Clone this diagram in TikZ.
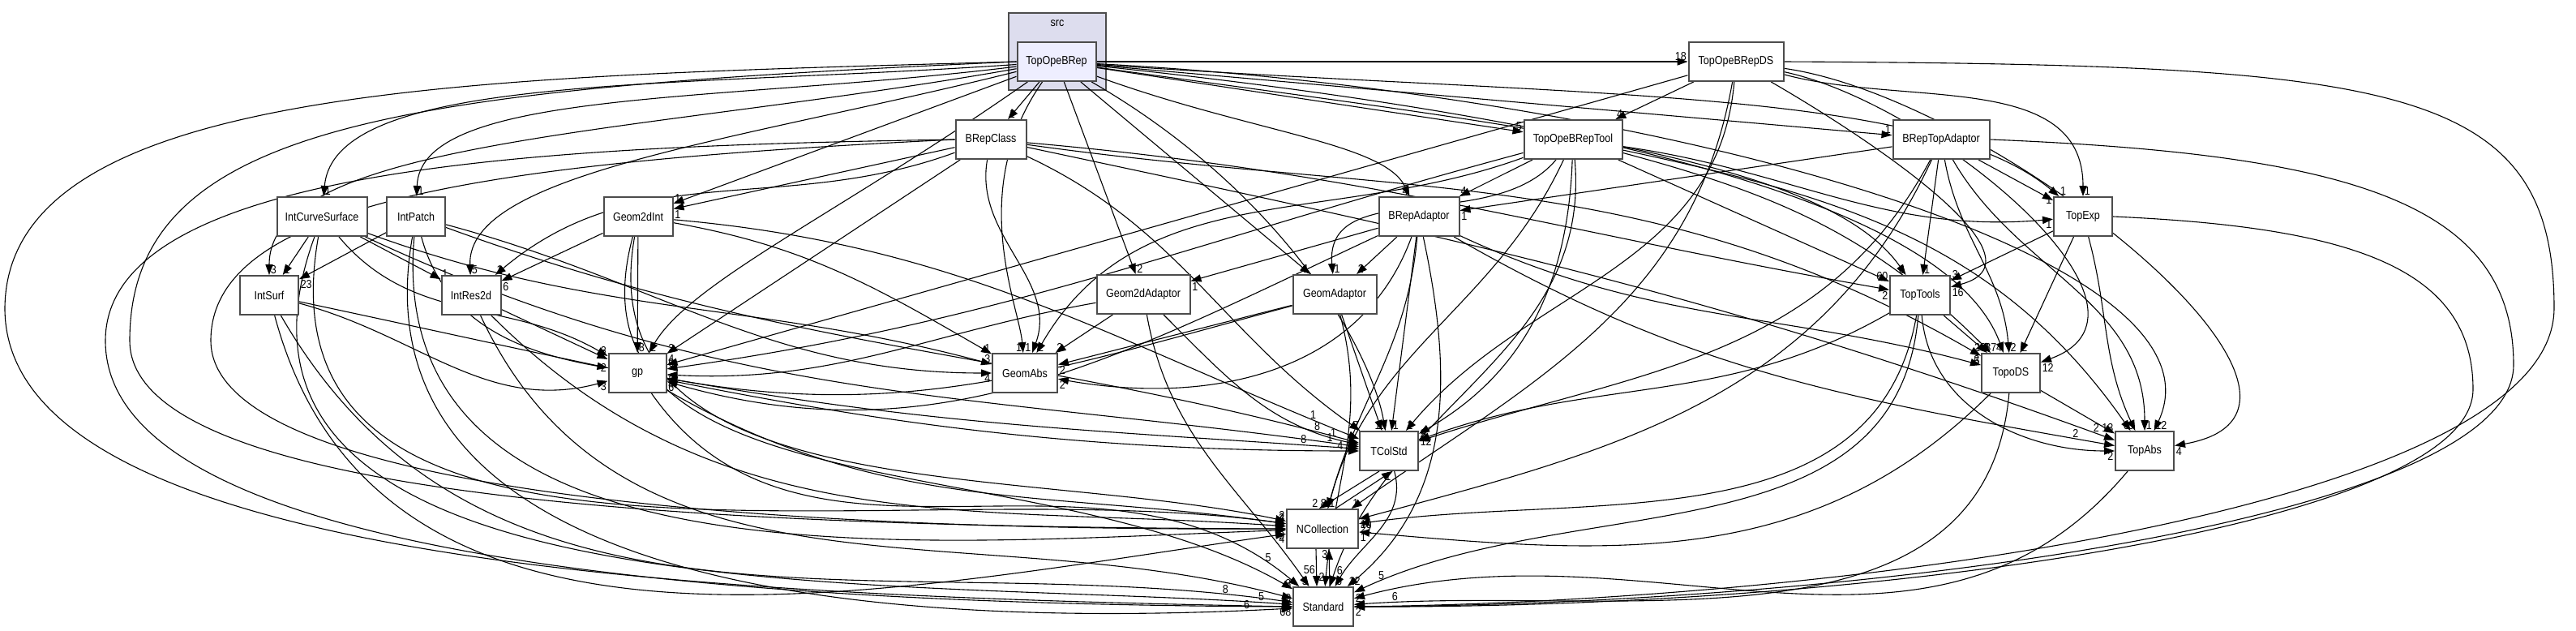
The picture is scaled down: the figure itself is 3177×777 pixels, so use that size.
\documentclass[tikz,border=0pt]{standalone}
\usepackage{fontspec}
\usepackage{xcolor}
\usepackage{tikz}
\usetikzlibrary{arrows.meta}
\newfontfamily\dirfont[FakeStretch=0.87]{Liberation Sans}
\newcommand{\dirtext}{\dirfont\fontsize{7.2}{8.6}\selectfont}
\definecolor{srcbg}{HTML}{DDDDEE}
\definecolor{opebg}{HTML}{EEEEFF}
\pgfdeclarelayer{fondo}
\pgfdeclarelayer{aristas}
\pgfsetlayers{fondo,aristas,main}

\begin{document}
\begin{tikzpicture}[
	x=0.5pt, y=-0.5pt,
	% --- ESTILOS ---
	dirbox/.style={
		rectangle, draw=black!70, line width=1pt, fill=white,
		minimum height=24pt, inner sep=1pt, font=\dirtext
	},
	srcbox/.style={
		draw=black!70, line width=1pt, fill=srcbg
	},
	dep/.style={
		draw, -{Triangle[length=6.5pt,width=4.6pt]}, line width=0.55pt, color=black
	},
	num/.style={
		font=\dirtext, inner sep=0.6pt
	}
	]

	% --- 0. Fondo y cluster src ---
	\begin{pgfonlayer}{fondo}
		\fill[white] (0,0) rectangle (3177,777);
		\draw[srcbox] (1244,16) rectangle (1364,111);
	\end{pgfonlayer}
	\useasboundingbox (0,0) rectangle (3177,777);
	\node[font=\dirtext] (src_lbl) at (1304,29) {src};

	% --- 1. Directorios (por filas) ---
	\node[dirbox, fill=opebg, minimum width=48.5pt] (topope) at (1303,76) {TopOpeBRep};
	\node[dirbox, minimum width=58.5pt] (ope_ds) at (2141,76) {TopOpeBRepDS};

	\node[dirbox, minimum width=43.5pt] (brep_class) at (1222,172) {BRepClass};
	\node[dirbox, minimum width=60.5pt] (ope_tool) at (1940,172) {TopOpeBRepTool};
	\node[dirbox, minimum width=59.5pt] (brep_topad) at (2394,172) {BRepTopAdaptor};

	\node[dirbox, minimum width=55.5pt] (int_cs) at (397,267) {IntCurveSurface};
	\node[dirbox, minimum width=36pt] (int_patch) at (513,267) {IntPatch};
	\node[dirbox, minimum width=42.5pt] (g2d_int) at (787,267) {Geom2dInt};
	\node[dirbox, minimum width=49.5pt] (brep_ad) at (1750,267) {BRepAdaptor};
	\node[dirbox, minimum width=36pt] (top_exp) at (2569,267) {TopExp};

	\node[dirbox, minimum width=36pt] (int_surf) at (332,364) {IntSurf};
	\node[dirbox, minimum width=36.5pt] (int_res) at (581,364) {IntRes2d};
	\node[dirbox, minimum width=57.5pt] (g2d_ad) at (1410,363) {Geom2dAdaptor};
	\node[dirbox, minimum width=51.5pt] (geom_ad) at (1646,363) {GeomAdaptor};
	\node[dirbox, minimum width=37pt] (top_tools) at (2368,364) {TopTools};

	\node[dirbox, minimum width=35.5pt] (gp) at (786,460) {gp};
	\node[dirbox, minimum width=40pt] (geom_abs) at (1264,460) {GeomAbs};
	\node[dirbox, minimum width=36pt] (topo_ds) at (2480,460) {TopoDS};

	\node[dirbox, minimum width=36pt] (tcol) at (1713,556) {TColStd};
	\node[dirbox, minimum width=36pt] (top_abs) at (2645,556) {TopAbs};
	\node[dirbox, minimum width=44pt] (ncoll) at (1631,652) {NCollection};
	\node[dirbox, minimum width=37pt] (std) at (1632,748) {Standard};

	\begin{pgfonlayer}{aristas}
	% --- 2. Dependencias rectas ---
	\foreach \src/\dst/\lbl/\anc in {
		topope/ope_ds/18/south east, topope/brep_class/1/south west,
		topope/ope_tool/5/south east, topope/brep_topad/1/south east,
		topope/g2d_int/1/south west, topope/g2d_ad/2/south west,
		topope/geom_ad/1/south east, ope_ds/ope_tool/4/south west,
		ope_ds/gp/4/south west, ope_tool/brep_ad/4/south west,
		ope_tool/top_tools/60/south east, brep_class/g2d_int/1/north west,
		brep_class/gp/2/south west,
		brep_topad/brep_ad/1/north west, brep_topad/top_exp/1/east,
		brep_topad/top_tools/1/south west, int_cs/int_surf/1/south west,
		int_cs/int_res/1/south west, int_patch/int_surf/23/north west,
		g2d_int/int_res/6/north west, g2d_int/gp/8/south west,
		brep_ad/g2d_ad/1/north west, brep_ad/geom_ad/2/south west,
		brep_ad/tcol/1/south west, g2d_ad/geom_abs/2/south west,
		geom_ad/geom_abs/2/north west, geom_ad/tcol/1/south east,
		top_exp/top_tools/3/south west, top_exp/topo_ds/2/south west,
		top_tools/topo_ds/26/south east, topo_ds/top_abs/13/south east,
		int_res/gp/2/south east}
		\draw[dep] (\src) -- node[num, at end, anchor=\anc] {\lbl} (\dst);

	% --- 3. Desde TopOpeBRep: arcos suaves hacia la izquierda y la derecha ---
	\foreach \dst/\o/\i/\lbl/\anc in {
		int_cs/184/85/1/south west, int_patch/187/88/1/south west,
		int_surf/190/90/3/south west, int_res/194/92/5/south west,
		gp/215/60/2/south west, geom_abs/235/95/1/south east,
		brep_ad/-20/115/4/south east, top_exp/-4/140/1/south west,
		top_tools/-8/125/6/south east, topo_ds/-6/110/374/south east,
		top_abs/-3/65/12/south west, tcol/-30/100/1/south east}
		\draw[dep] (topope) to[out=\o, in=\i, out looseness=1.25, in looseness=0.45]
			node[num, at end, anchor=\anc] {\lbl} (\dst);

	% --- 4. Resto de dependencias curvas (salida/entrada) ---
	\foreach \src/\dst/\o/\i/\lbl/\anc in {
		ope_ds/top_exp/-15/90/1/south west, ope_ds/top_tools/-30/15/16/north west,
		ope_ds/topo_ds/-12/20/12/north west, ope_ds/top_abs/-8/10/4/north west,
		ope_ds/tcol/-95/50/2/south west, ope_ds/ncoll/-100/35/1/south west,
		ope_tool/geom_ad/230/95/1/south west, ope_tool/gp/195/8/6/south west,
		ope_tool/geom_abs/200/60/2/south west, ope_tool/tcol/-92/30/2/west,
		ope_tool/ncoll/-115/75/8/south east,
		ope_tool/top_exp/-8/185/1/north east, ope_tool/topo_ds/-15/135/3/south east,
		ope_tool/top_abs/-12/125/6/south east,
		brep_class/top_tools/-5/170/2/north east, brep_class/topo_ds/-8/150/5/north east,
		brep_class/tcol/-25/145/7/south east, brep_class/int_res/200/40/1/south west,
		brep_class/geom_abs/-100/70/1/south east,
		brep_topad/topo_ds/-80/95/2/south west, brep_topad/top_abs/-60/90/1/south west,
		brep_topad/tcol/-118/18/12/west, brep_topad/ncoll/-115/15/10/north west,
		int_cs/gp/-50/150/2/south east, int_cs/geom_abs/-20/165/3/south east,
		int_cs/ncoll/-100/172/4/south east,
		int_patch/gp/-75/170/2/east, int_patch/geom_abs/-15/180/4/north east,
		int_patch/ncoll/-95/182/9/north east,
		g2d_int/geom_abs/-10/150/1/south east,
		g2d_int/ncoll/-100/168/2/south east,
		int_surf/gp/-15/195/3/north east,
		int_surf/ncoll/-75/188/4/north east,
		int_res/ncoll/-45/176/2/east,
		g2d_ad/gp/190/-3/3/north west,
		geom_ad/gp/195/-10/4/north west,
		brep_ad/gp/205/-16/6/north west, brep_ad/geom_abs/-110/-10/2/north west,
		brep_ad/ncoll/-95/75/1/south west,
		brep_ad/topo_ds/-25/165/3/south east,
		top_exp/top_abs/-75/115/6/south east,
		top_tools/top_abs/-85/180/2/north east, top_tools/tcol/210/20/5/south west,
		top_tools/ncoll/-100/8/22/north west,
		topo_ds/ncoll/225/-5/1/north west,
		gp/ncoll/-30/172/2/south east}
		\draw[dep] (\src) to[out=\o, in=\i] node[num, at end, anchor=\anc] {\lbl} (\dst);

	% --- 5. Llegadas por la izquierda de TColStd y TopAbs (etiquetas repartidas) ---
	\foreach \src/\dst/\o/\i/\lbl/\ps in {
		int_cs/tcol/-25/172/1/0.975, int_patch/tcol/-20/165/8/0.96,
		g2d_int/tcol/-5/158/1/0.94, int_surf/tcol/-12/180/4/0.985,
		gp/tcol/-10/176/8/0.93, g2d_ad/tcol/-45/168/1/0.9,
		brep_ad/top_abs/-30/170/2/0.95, brep_class/top_abs/-12/160/2/0.985}
		\draw[dep] (\src) to[out=\o, in=\i] node[num, pos=\ps, anchor=south] {\lbl} (\dst);

	% --- 6. Llegadas a Standard (etiquetas repartidas) ---
	\foreach \src/\o/\i/\lbl/\anc/\ps in {
		int_cs/-110/176/5/south/0.975, int_patch/-100/183/6/south/0.96,
		int_surf/-60/172/8/south/0.945, int_res/-65/165/9/east/1,
		g2d_int/-105/150/3/south east/1, gp/-55/140/5/south/0.95,
		g2d_ad/-80/125/5/south east/1, geom_ad/-75/85/2/east/0.97,
		ope_tool/-85/72/6/west/0.97, tcol/-75/60/6/south west/1,
		brep_ad/-78/40/12/south west/1, top_abs/-130/15/2/west/1,
		topo_ds/-95/4/6/south/0.95, top_tools/-95/25/5/south/0.96}
		\draw[dep] (\src) to[out=\o, in=\i] node[num, pos=\ps, anchor=\anc] {\lbl} (std);

	% --- 7. Idas y vueltas entre TColStd, NCollection y Standard ---
	\draw[dep] ([xshift=-6pt]tcol.south) -- ([xshift=-2pt]ncoll.north) node[num, anchor=south east] {2};
	\draw[dep] ([xshift=8pt]ncoll.north) -- ([xshift=2pt]tcol.south) node[num, anchor=north east] {1};
	\draw[dep] ([xshift=-4pt]ncoll.south) -- node[num, pos=0.55, left] {56} ([xshift=-4pt]std.north);
	\draw[dep] ([xshift=4pt]std.north) -- ([xshift=4pt]ncoll.south) node[num, anchor=north east] {3};

	% --- 8. Vueltas largas por los bordes ---
	% lado izquierdo
	\draw[dep] (topope.west) .. controls (600,95) and (8,100) .. (6,380)
		.. controls (6,700) and (900,735) .. (std.west) node[num, anchor=north east] {68};
	\draw[dep] (brep_class.west) .. controls (700,180) and (130,200) .. (130,420)
		.. controls (130,690) and (900,745) .. (std.west);
	\draw[dep] (topope.west) .. controls (500,110) and (160,150) .. (160,420)
		.. controls (160,620) and (900,650) .. (ncoll.west) node[num, anchor=south east] {4};
	\draw[dep] (brep_class.west) .. controls (600,200) and (260,250) .. (260,420)
		.. controls (260,600) and (900,655) .. (ncoll.west);
	% lado derecho
	\draw[dep] (ope_ds.east) .. controls (2950,80) and (3150,100) .. (3150,380)
		.. controls (3150,620) and (2300,740) .. (std.east) node[num, anchor=north west] {2};
	\draw[dep] (brep_topad.east) .. controls (2900,190) and (3100,250) .. (3100,450)
		.. controls (3100,640) and (2300,745) .. (std.east);
	\draw[dep] (top_exp.east) .. controls (2900,280) and (3050,330) .. (3050,480)
		.. controls (3050,650) and (2300,750) .. (std.east);
	\end{pgfonlayer}

\end{tikzpicture}
\end{document}
